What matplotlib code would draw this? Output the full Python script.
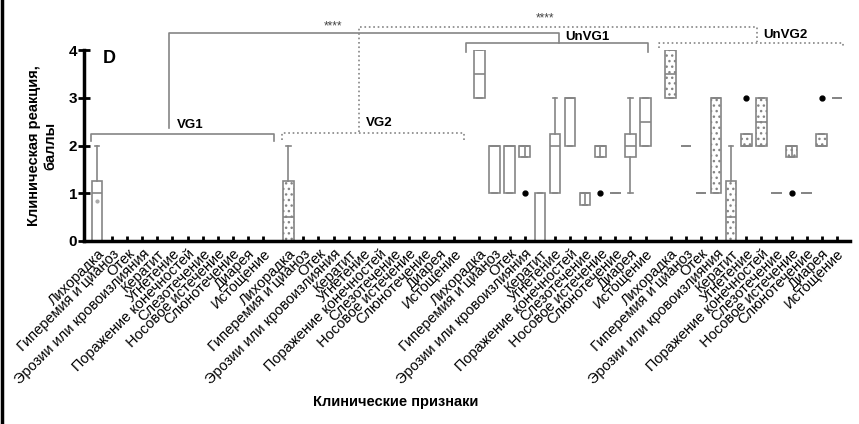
import matplotlib
matplotlib.use('Agg')
import matplotlib.pyplot as plt
from matplotlib.lines import Line2D

plt.rcParams['font.family'] = ['Liberation Sans', 'DejaVu Sans']
plt.rcParams['hatch.linewidth'] = 1.0

categories = ['Лихорадка', 'Гиперемия и цианоз', 'Отек', 'Эрозии или кровоизлияния',
              'Кератит', 'Угнетение', 'Поражение конечностей', 'Слезотечение',
              'Носовое истечение', 'Слюнотечение', 'Диарея', 'Истощение']
groups = ['VG1', 'VG2', 'UnVG1', 'UnVG2']

# box stats per clinical sign: q1, median, q3, whisker low, whisker high
vg1_q1 = [0, 0, 0, 0, 0, 0, 0, 0, 0, 0, 0, 0]
vg1_med = [1, 0, 0, 0, 0, 0, 0, 0, 0, 0, 0, 0]
vg1_q3 = [1.25, 0, 0, 0, 0, 0, 0, 0, 0, 0, 0, 0]
vg1_lo = [0, 0, 0, 0, 0, 0, 0, 0, 0, 0, 0, 0]
vg1_hi = [2, 0, 0, 0, 0, 0, 0, 0, 0, 0, 0, 0]
vg1_out = [[], [], [], [], [], [], [], [], [], [], [], []]
vg1_mean = [0.84, None, None, None, None, None, None, None, None, None, None, None]

vg2_q1 = [0, 0, 0, 0, 0, 0, 0, 0, 0, 0, 0, 0]
vg2_med = [0.5, 0, 0, 0, 0, 0, 0, 0, 0, 0, 0, 0]
vg2_q3 = [1.25, 0, 0, 0, 0, 0, 0, 0, 0, 0, 0, 0]
vg2_lo = [0, 0, 0, 0, 0, 0, 0, 0, 0, 0, 0, 0]
vg2_hi = [2, 0, 0, 0, 0, 0, 0, 0, 0, 0, 0, 0]
vg2_out = [[], [], [], [], [], [], [], [], [], [], [], []]

unvg1_q1 = [3, 1, 1, 1.75, 0, 1, 2, 0.75, 1.75, 1, 1.75, 2]
unvg1_med = [3.5, 2, 2, 2, 0, 2, 3, 1, 2, 1, 2, 2.5]
unvg1_q3 = [4, 2, 2, 2, 1, 2.25, 3, 1, 2, 1, 2.25, 3]
unvg1_lo = [3, 1, 1, 1.75, 0, 1, 2, 0.75, 1.75, 1, 1, 2]
unvg1_hi = [4, 2, 2, 2, 1, 3, 3, 1, 2, 1, 3, 3]
unvg1_out = [[], [], [], [1], [], [], [], [], [1], [], [], []]
unvg1_inner = [0, 0, 0, 1, 0, 0, 0, 1, 1, 0, 0, 0]

unvg2_q1 = [3, 2, 1, 1, 0, 2, 2, 1, 1.75, 1, 2, 3]
unvg2_med = [3.5, 2, 1, 3, 0.5, 2, 2.5, 1, 2, 1, 2, 3]
unvg2_q3 = [4, 2, 1, 3, 1.25, 2.25, 3, 1, 2, 1, 2.25, 3]
unvg2_lo = [3, 2, 1, 1, 0, 2, 2, 1, 1.75, 1, 2, 3]
unvg2_hi = [4, 2, 1, 3, 2, 2.25, 3, 1, 2, 1, 2.25, 3]
unvg2_out = [[], [], [], [], [], [3], [], [], [1], [], [3], []]
unvg2_inner = [0, 0, 0, 0, 0, 0, 0, 0, 1, 0, 0, 0]

group_q1 = [vg1_q1, vg2_q1, unvg1_q1, unvg2_q1]
group_med = [vg1_med, vg2_med, unvg1_med, unvg2_med]
group_q3 = [vg1_q3, vg2_q3, unvg1_q3, unvg2_q3]
group_lo = [vg1_lo, vg2_lo, unvg1_lo, unvg2_lo]
group_hi = [vg1_hi, vg2_hi, unvg1_hi, unvg2_hi]
group_out = [vg1_out, vg2_out, unvg1_out, unvg2_out]
group_inner = [[0] * 12, [0] * 12, unvg1_inner, unvg2_inner]
group_hatch = [None, '...', None, '...']

offsets = [0, 12.67, 25.33, 38]
gray = '#858585'

fig = plt.figure(figsize=(8.59, 4.24), dpi=100)
ax = fig.add_axes([84 / 859, 1 - 241 / 424, (850 - 84) / 859, (241 - 50) / 424])
ax.tick_params(axis='x', direction='in', length=3.5, width=2, pad=4)
ax.tick_params(axis='y', direction='inout', length=8, width=2, labelsize=11, pad=1)

all_pos = []
all_labels = []
for g in range(4):
    pos = [offsets[g] + i for i in range(len(categories))]
    all_pos += pos
    all_labels += categories
    stats = []
    for i in range(len(categories)):
        stats.append(dict(q1=group_q1[g][i], med=group_med[g][i], q3=group_q3[g][i],
                          whislo=group_lo[g][i], whishi=group_hi[g][i],
                          fliers=group_out[g][i]))
    bp = ax.bxp(stats, positions=pos, widths=0.7, capwidths=0.3, patch_artist=True,
                manage_ticks=False,
                boxprops=dict(facecolor='white', edgecolor=gray, linewidth=1.2),
                medianprops=dict(color=gray, linewidth=1.2),
                whiskerprops=dict(color=gray, linewidth=1.2),
                capprops=dict(color=gray, linewidth=1.2),
                flierprops=dict(marker='o', markerfacecolor='black',
                                markeredgecolor='black', markersize=3.5,
                                linestyle='none'))
    if group_hatch[g]:
        for b in bp['boxes']:
            b.set_hatch(group_hatch[g])
    for i in range(len(categories)):
        if group_inner[g][i]:
            ax.vlines(pos[i], group_q1[g][i], group_q3[g][i], color=gray, lw=1.2)

for i, m in enumerate(vg1_mean):
    if m is not None:
        ax.plot(offsets[0] + i, m, 'o', color='#aaaaaa', markersize=2)

ax.set_xlim(-0.86, 49.87)
ax.set_ylim(0, 4)
ax.set_yticks([0, 1, 2, 3, 4])
ax.set_yticklabels(['0', '1', '2', '3', '4'], fontweight='bold')
ax.set_xticks(all_pos)
ax.set_xticklabels(all_labels, rotation=45, ha='right', va='top',
                   rotation_mode='anchor', fontsize=10.5)
for s in ['top', 'right']:
    ax.spines[s].set_visible(False)
for s in ['left', 'bottom']:
    ax.spines[s].set_linewidth(2.5)

ax.set_ylabel('Клиническая реакция,\nбаллы', fontsize=10.5, fontweight='bold', labelpad=8)
fig.text(396 / 859, 1 - 402 / 424, 'Клинические признаки', ha='center', va='center',
         fontsize=10.5, fontweight='bold')
ax.text(0.8, 3.83, 'D', fontsize=13, fontweight='bold', ha='center', va='center')


def bracket(x0, x1, y, drop, ls):
    ax.plot([x0, x0, x1, x1], [y - drop, y, y, y - drop], color=gray, lw=1.2,
            ls=ls, clip_on=False)


bracket(offsets[0] - 0.4, offsets[0] + 11.7, 2.24, 0.15, '-')
bracket(offsets[1] - 0.42, offsets[1] + 11.63, 2.26, 0.15, ':')
bracket(offsets[2] - 0.9, offsets[2] + 11.15, 4.14, 0.18, '-')
bracket(offsets[3] - 0.8, offsets[3] + 11.4, 4.15, 0.11, ':')

# comparison lines between groups
ax.plot([offsets[0] + 4.77, offsets[0] + 4.77, offsets[2] + 5.27, offsets[2] + 5.27],
        [2.37, 4.36, 4.36, 4.15], color=gray, lw=1.2, clip_on=False)
ax.plot([offsets[1] + 4.68, offsets[1] + 4.68, offsets[3] + 5.7, offsets[3] + 5.7],
        [2.28, 4.48, 4.48, 4.17], color=gray, lw=1.2, ls=':', clip_on=False)

lab = dict(fontsize=9.5, fontweight='bold', ha='left', va='center', clip_on=False)
ax.text(offsets[0] + 5.3, 2.43, groups[0], **lab)
ax.text(offsets[1] + 5.13, 2.47, groups[1], **lab)
ax.text(offsets[2] + 5.67, 4.27, groups[2], **lab)
ax.text(offsets[3] + 6.1, 4.31, groups[3], **lab)
ax.text(15.6, 4.5, '****', fontsize=8.5, color='#444444', ha='center', va='center')
ax.text(29.7, 4.67, '****', fontsize=8.5, color='#444444', ha='center', va='center')

fig.add_artist(Line2D([0.002, 0.002], [0, 1], color='black', lw=2.5,
                      transform=fig.transFigure))

fig.savefig('out.png', dpi=100)
